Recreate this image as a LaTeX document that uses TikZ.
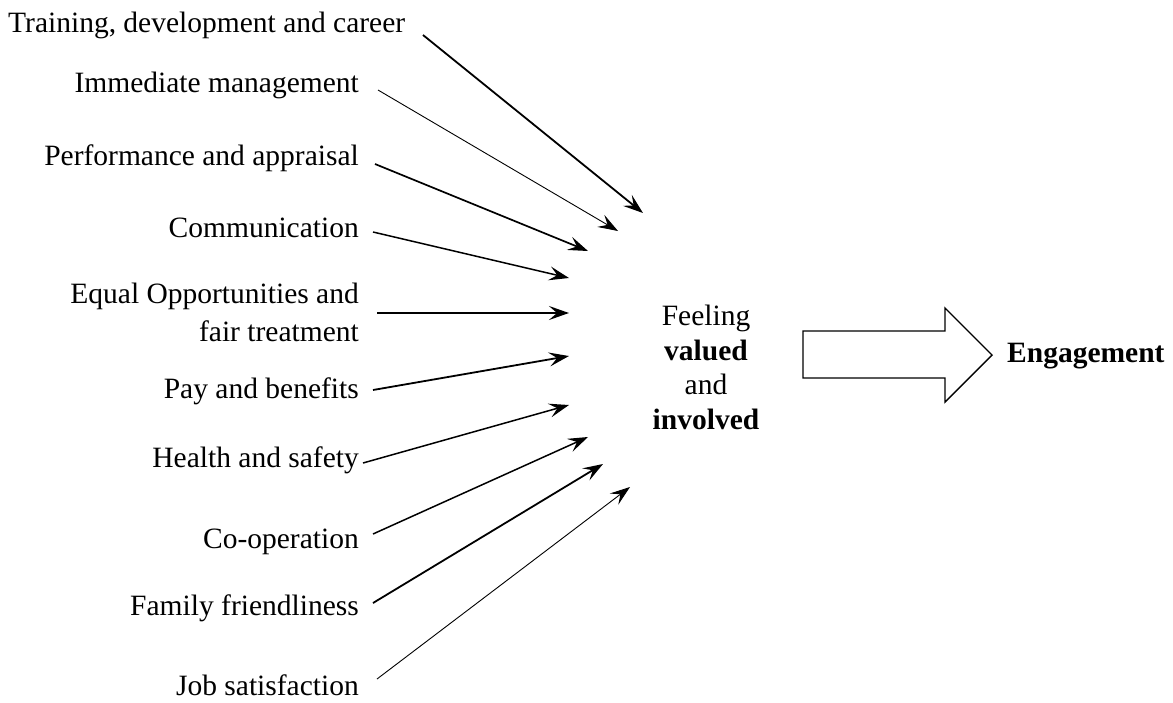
\documentclass[tikz,border=0pt]{standalone}
\usepackage{fontspec}
\setmainfont{Liberation Serif}
\usetikzlibrary{arrows.meta}

\begin{document}
\begin{tikzpicture}[x=1pt,y=-1pt,
  lbl/.style={inner sep=0pt, font=\fontsize{29.5}{38}\selectfont, anchor=base east},
  feed/.style={-{Stealth[length=20pt,width=14pt,inset=8pt]}, line width=1.5pt},
  thin feed/.style={feed, line width=0.9pt},
  heavy feed/.style={feed, line width=2.2pt},
  block/.style={draw, line width=1.4pt, fill=white, line join=miter}]

\useasboundingbox (0,0) rectangle (1173,702);

% factor labels
\node[lbl, anchor=base west] (train) at (8,32) {Training, development and career};
\node[lbl] (mgmt) at (359,92) {Immediate management};
\node[lbl] (perf) at (359,165) {Performance and appraisal};
\node[lbl] (comm) at (359,237) {Communication};
\node[lbl, align=right, anchor=north east] (equal) at (359,283) {Equal Opportunities and\\fair treatment};
\node[lbl] (pay) at (359,398) {Pay and benefits};
\node[lbl] (health) at (359,467) {Health and safety};
\node[lbl] (coop) at (359,548) {Co-operation};
\node[lbl] (family) at (359,615) {Family friendliness};
\node[lbl] (job) at (359,695) {Job satisfaction};

% central outcome and result
\node[inner sep=0pt, align=center, anchor=north,
      font=\fontsize{29.5}{34.5}\selectfont] (feel) at (706,305)
  {Feeling\\\textbf{valued}\\and\\\textbf{involved}};
\node[lbl, anchor=base west] (engage) at (1007,362) {\textbf{Engagement}};

% connector start and end points
\coordinate (s1) at (423,35);  \coordinate (e1) at (643,213);
\coordinate (s2) at (378,90);  \coordinate (e2) at (618,231);
\coordinate (s3) at (375,164); \coordinate (e3) at (588,251);
\coordinate (s4) at (373,232); \coordinate (e4) at (569,278);
\coordinate (s5) at (377,313); \coordinate (e5) at (569,313);
\coordinate (s6) at (373,390); \coordinate (e6) at (569,356);
\coordinate (s7) at (363,463); \coordinate (e7) at (569,405);
\coordinate (s8) at (373,534); \coordinate (e8) at (588,437);
\coordinate (s9) at (373,603); \coordinate (e9) at (603,464);
\coordinate (s10) at (377,679); \coordinate (e10) at (630,487);

\draw[feed, line width=1.8pt] (s1) -- (e1);
\draw[thin feed] (s2) -- (e2);
\draw[feed, line width=1.7pt] (s3) -- (e3);
\draw[feed] (s4) -- (e4);
\draw[heavy feed] (s5) -- (e5);
\draw[feed, line width=1.8pt] (s6) -- (e6);
\draw[feed] (s7) -- (e7);
\draw[feed] (s8) -- (e8);
\draw[feed, line width=1.8pt] (s9) -- (e9);
\draw[thin feed] (s10) -- (e10);

% block arrow towards engagement
\draw[block] (803,331) -- (945,331) -- (945,308) -- (992,355)
  -- (945,402) -- (945,378) -- (803,378) -- cycle;

\end{tikzpicture}
\end{document}
